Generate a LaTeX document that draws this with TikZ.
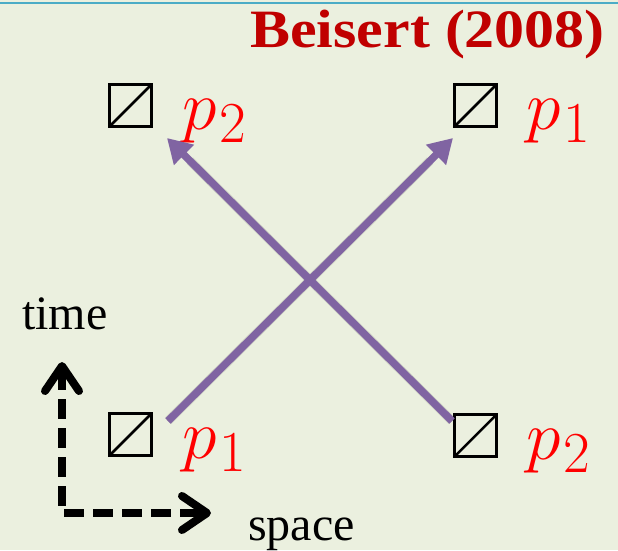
\RequirePackage{fix-cm}
\documentclass[tikz,border=0pt]{standalone}
\usepackage{fontspec}
\setmainfont{Liberation Serif}
\usetikzlibrary{arrows.meta,calc}
\definecolor{bgc}{HTML}{EBF0DF}
\definecolor{topc}{HTML}{4BACC6}
\definecolor{titc}{HTML}{C00000}
\definecolor{purp}{HTML}{8064A2}
\newcommand{\plab}[1]{{\fontsize{70}{74}\selectfont$p$}\kern3pt\raisebox{-13.5pt}{\fontsize{58}{60}\selectfont$#1$}}
\tikzset{axbarb/.tip={Straight Barb[length=25pt,width=34pt,line width=8pt,round]}}
\begin{document}
\begin{tikzpicture}[x=1pt,y=-1pt,
  cell/.style={draw=black,line width=2.8pt,minimum size=42pt,inner sep=0pt,outer sep=0pt},
  diag/.style={line width=2.5pt},
  plabel/.style={text=red,anchor=base west,inner sep=0pt},
  worldline/.style={draw=purp,line width=7.5pt,-{Triangle[length=24pt,width=27pt]}},
  wshadow/.style={draw=black,opacity=0.12,line width=9pt},
  axis/.style={draw=black,line width=8pt,dash pattern=on 20pt off 9pt,axbarb-axbarb},
  axlabel/.style={anchor=base west,inner sep=0pt,font=\fontsize{48}{52}\selectfont}]
\fill[bgc] (0,0) rectangle (618,550);
\useasboundingbox (0,0) rectangle (618,550);
\coordinate (tl) at (0,3);
\coordinate (tr) at (618,3);
\draw[topc,line width=2.5pt] (tl) -- (tr);
% title
\node[anchor=base east,inner sep=0pt,text=titc,font=\bfseries\fontsize{54}{58}\selectfont,xscale=1.11,transform shape] (title) at (605,47) {Beisert (2008)};
% cells
\node[cell] (bUL) at (130.5,105.5) {};
\node[cell] (bUR) at (475.5,105.5) {};
\node[cell] (bLL) at (130.5,434.5) {};
\node[cell] (bLR) at (475.5,435.5) {};
\foreach \b in {bUL,bUR,bLL,bLR}{\draw[diag] (\b.south west) -- (\b.north east);}
% labels
\node[plabel] (lUL) at (182,129) {\plab{2}};
\node[plabel] (lUR) at (526,129) {\plab{1}};
\node[plabel] (lLL) at (182,458) {\plab{1}};
\node[plabel] (lLR) at (526,459) {\plab{2}};
% world lines
\coordinate (s1) at (168,421);
\coordinate (e1) at (453,138);
\coordinate (s2) at (452,421);
\coordinate (e2) at (167,138);
\coordinate (m1) at ($(e1)!0.08!(s1)$);
\coordinate (m2) at ($(e2)!0.08!(s2)$);
\begin{scope}[shift={(2,3)}]
\draw[wshadow] (s1) -- (m1);
\draw[wshadow] (s2) -- (m2);
\end{scope}
\draw[worldline] (s1) -- (e1);
\draw[worldline] (s2) -- (e2);
% axes
\coordinate (axt) at (62,362);
\coordinate (ax0) at (62,513);
\coordinate (axs) at (211,513);
\draw[axis] (axt) -- (ax0) -- (axs);
\node[axlabel] (time) at (22,329) {time};
\node[axlabel] (space) at (248,540) {space};
\end{tikzpicture}
\end{document}
